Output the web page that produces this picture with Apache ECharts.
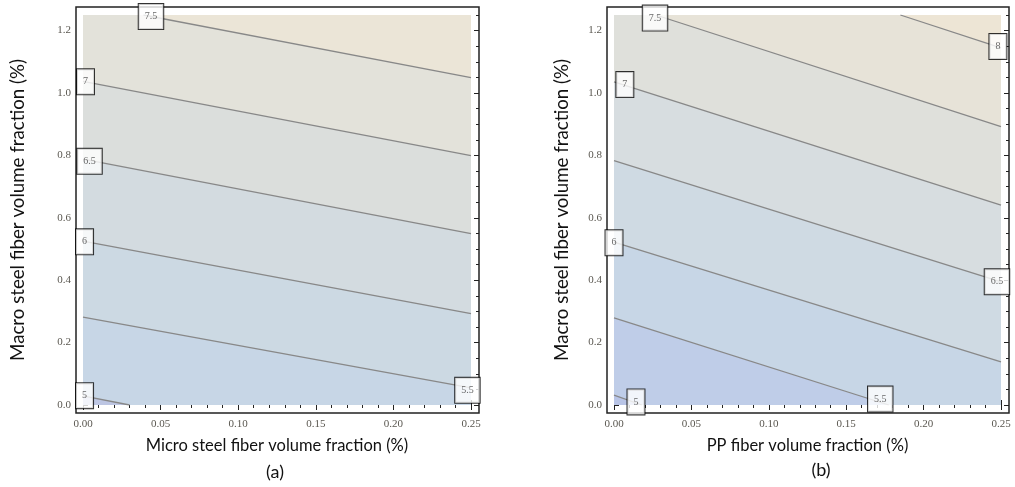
<!DOCTYPE html>
<html>
<head>
<meta charset="utf-8">
<script src="https://cdn.jsdelivr.net/npm/echarts@6/dist/echarts.min.js"></script>
<style>
html, body { margin: 0; padding: 0; background: #fff; }
#main { width: 1015px; height: 487px; }
</style>
</head>
<body>
<div id="main"></div>
<script>
// contour levels, and where each level line meets the plot border [x, y]
var levelsA = [5, 5.5, 6, 6.5, 7, 7.5];
var linesA = [
    [[0, 0.029], [0.030, 0]],
    [[0, 0.282], [0.25, 0.055]],
    [[0, 0.525], [0.25, 0.293]],
    [[0, 0.788], [0.25, 0.549]],
    [[0, 1.037], [0.25, 0.799]],
    [[0.039, 1.25], [0.25, 1.049]]
];
var labelPosA = [[0.001, 0.03], [0.2477, 0.047], [0.001, 0.523], [0.0042, 0.781], [0.0016, 1.036], [0.0438, 1.245]];

var levelsB = [5, 5.5, 6, 6.5, 7, 7.5, 8];
var linesB = [
    [[0, 0.032], [0.018, 0]],
    [[0, 0.279], [0.1775, 0]],
    [[0, 0.522], [0.25, 0.138]],
    [[0, 0.783], [0.25, 0.395]],
    [[0, 1.036], [0.25, 0.641]],
    [[0.027, 1.25], [0.25, 0.892]],
    [[0.185, 1.25], [0.25, 1.145]]
];
var labelPosB = [[0.0142, 0.01], [0.172, 0.019], [0, 0.52], [0.2474, 0.395], [0.007, 1.027], [0.0265, 1.24], [0.248, 1.149]];

var xTicks = [0, 0.05, 0.1, 0.15, 0.2, 0.25];
var yTicks = [0, 0.2, 0.4, 0.6, 0.8, 1.0, 1.2];
var xRange = [0, 0.25];
var yRange = [0, 1.25];

// band fills, lowest band first
var colorsA = ['#bdc6e3', '#c7d6e6', '#ccd9e3', '#d3dbe0', '#dbdedc', '#e3e2da', '#ebe5d7'];
var colorsB = ['#b8c4e6', '#bfcde8', '#c7d6e6', '#cfdae3', '#d7dde0', '#dfe0db', '#e7e3d8', '#ede5d5'];

var X0 = xRange[0], X1 = xRange[1], Y0 = yRange[0], Y1 = yRange[1];
var W = X1 - X0, H = Y1 - Y0, P = 2 * (W + H);

// position along the border, counter-clockwise from bottom-left
function perim(p) {
    var e = 1e-9;
    if (Math.abs(p[1] - Y0) < e) return p[0] - X0;
    if (Math.abs(p[0] - X1) < e) return W + (p[1] - Y0);
    if (Math.abs(p[1] - Y1) < e) return W + H + (X1 - p[0]);
    return 2 * W + H + (Y1 - p[1]);
}
var corners = [[[X1, Y0], W], [[X1, Y1], W + H], [[X0, Y1], 2 * W + H], [[X0, Y0], P]];

// region on the high side of a level line
function aboveLine(l) {
    var a = l[0], b = l[l.length - 1];
    var tEnd = perim(b), tStart = perim(a);
    if (tStart <= tEnd) tStart += P;
    var pts = l.slice();
    var cs = [];
    corners.forEach(function (c) {
        [c[1], c[1] + P].forEach(function (t) {
            if (t > tEnd && t < tStart) cs.push([t, c[0]]);
        });
    });
    cs.sort(function (u, v) { return u[0] - v[0]; });
    cs.forEach(function (c) { pts.push(c[1]); });
    return pts;
}

function bandPolys(lines) {
    var polys = [[[X0, Y0], [X1, Y0], [X1, Y1], [X0, Y1]]];
    lines.forEach(function (l) { polys.push(aboveLine(l)); });
    return polys;
}

var tickFont = { fontFamily: 'Liberation Serif', fontSize: 11, color: '#5a5750' };
var nameFont = { fontFamily: 'Lato', color: '#111' };

function panel(gi, xi, yi, lines, levels, labelPos, colors, xName, yGap) {
    var polys = bandPolys(lines);
    var xAxes = [
        { gridIndex: gi, type: 'value', position: 'bottom', offset: 8, min: X0, max: X1, interval: 0.05,
          axisLine: { show: false }, splitLine: { show: false },
          axisTick: { inside: true, length: 5, lineStyle: { color: '#222' } },
          minorTick: { show: true, splitNumber: 5, length: 3, lineStyle: { color: '#222' } },
          axisLabel: Object.assign({ margin: 6, customValues: xTicks, formatter: function (v) { return v.toFixed(2); } }, tickFont),
          name: xName, nameLocation: 'middle', nameGap: 24,
          nameTextStyle: Object.assign({ fontSize: 16.5 }, nameFont) },
        { gridIndex: gi, type: 'value', position: 'top', offset: 8, min: X0, max: X1, interval: 0.05,
          axisLine: { show: false }, splitLine: { show: false }, axisLabel: { show: false },
          axisTick: { inside: true, length: 5, lineStyle: { color: '#222' } },
          minorTick: { show: true, splitNumber: 5, length: 3, lineStyle: { color: '#222' } } },
        { gridIndex: gi + 1, type: 'value', show: false, min: 0, max: 1 }
    ];
    function yPair(pos, off, withLabel) {
        return [
            { gridIndex: gi, type: 'value', position: pos, offset: off, min: Y0, max: Y1, interval: 0.05,
              axisLine: { show: false }, splitLine: { show: false }, axisLabel: { show: false },
              axisTick: { inside: true, length: 3, lineStyle: { color: '#222' } } },
            { gridIndex: gi, type: 'value', position: pos, offset: off, min: Y0, max: Y1, interval: 0.2,
              axisLine: { show: false }, splitLine: { show: false },
              axisTick: { inside: true, length: 5, customValues: yTicks, lineStyle: { color: '#222' } },
              axisLabel: Object.assign({ show: withLabel, margin: 5, customValues: yTicks,
                  formatter: function (v) { return v.toFixed(1); } }, tickFont),
              name: withLabel ? 'Macro steel fiber volume fraction (%)' : '',
              nameLocation: 'middle', nameGap: yGap, nameRotate: 90,
              nameTextStyle: Object.assign({ fontSize: 18.7 }, nameFont) }
        ];
    }
    var yAxes = yPair('left', 7, true).concat(yPair('right', 8, false))
        .concat([{ gridIndex: gi + 1, type: 'value', show: false, min: 0, max: 1 }]);

    var series = [{
        type: 'custom', xAxisIndex: xi, yAxisIndex: yi, silent: true, z: 1,
        data: polys.map(function () { return [0, 0]; }),
        renderItem: function (params, api) {
            var poly = polys[params.dataIndex];
            return {
                type: 'polygon',
                shape: { points: poly.map(function (p) { return api.coord(p); }) },
                style: { fill: colors[params.dataIndex] }
            };
        }
    }];
    lines.forEach(function (l) {
        series.push({ type: 'line', xAxisIndex: xi, yAxisIndex: yi, data: l, symbol: 'none', silent: true, z: 3,
            lineStyle: { color: '#888', width: 1.3 } });
    });
    series.push({
        type: 'scatter', xAxisIndex: xi, yAxisIndex: yi, silent: true, z: 10, clip: false,
        symbolSize: 1, itemStyle: { color: 'rgba(0,0,0,0)' },
        data: labelPos.map(function (p, i) { return { value: p, name: String(levels[i]) }; }),
        label: { show: true, position: 'inside', formatter: '{b}', fontFamily: 'Liberation Serif', fontSize: 10,
            color: '#444', backgroundColor: '#fff', borderColor: '#000', borderWidth: 1, padding: [7, 6], lineHeight: 11 }
    });
    return { xAxes: xAxes, yAxes: yAxes, series: series };
}

var pa = panel(0, 0, 0, linesA, levelsA, labelPosA, colorsA, 'Micro steel fiber volume fraction (%)', 49);
var pb = panel(2, 3, 5, linesB, levelsB, labelPosB, colorsB, 'PP fiber volume fraction (%)', 36);

var myChart = echarts.init(document.getElementById('main'));
var option = {
    animation: false,
    grid: [
        { left: 83, top: 15, width: 388, height: 390 },
        { left: 76, top: 7, width: 403, height: 406, show: true, borderColor: '#222', borderWidth: 1.5, backgroundColor: 'transparent' },
        { left: 614, top: 15, width: 387, height: 390 },
        { left: 607, top: 7, width: 402, height: 406, show: true, borderColor: '#222', borderWidth: 1.5, backgroundColor: 'transparent' }
    ],
    xAxis: pa.xAxes.concat(pb.xAxes),
    yAxis: pa.yAxes.concat(pb.yAxes),
    series: pa.series.concat(pb.series),
    graphic: [
        { type: 'text', x: 275, y: 472, style: { text: '(a)', font: '18px Lato', fill: '#111', textAlign: 'center', textVerticalAlign: 'middle' } },
        { type: 'text', x: 821, y: 470, style: { text: '(b)', font: '18px Lato', fill: '#111', textAlign: 'center', textVerticalAlign: 'middle' } }
    ]
};
myChart.setOption(option);
</script>
</body>
</html>
